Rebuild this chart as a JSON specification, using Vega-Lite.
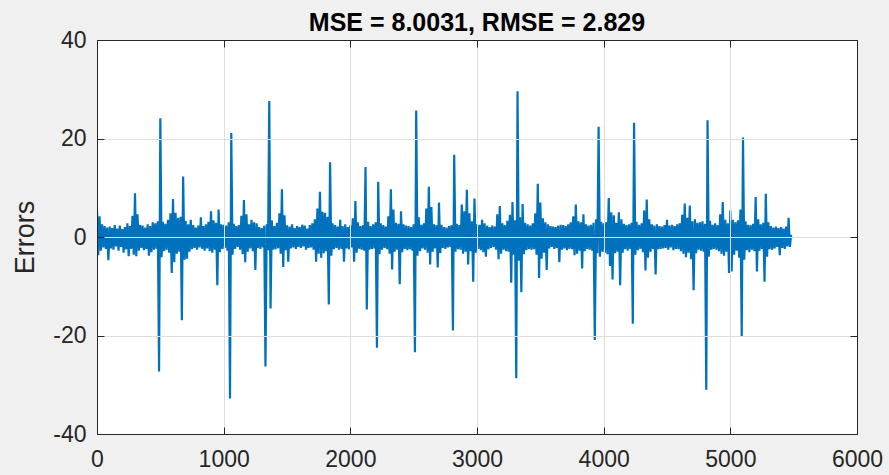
{
  "$schema": "https://vega.github.io/schema/vega-lite/v6.json",
  "autosize": {"type": "none"},
  "width": 760,
  "height": 394,
  "padding": {"left": 97, "top": 40, "right": 32, "bottom": 41},
  "background": "#f0f0f0",
  "config": {
    "view": {"fill": "white", "stroke": null},
    "font": "Liberation Sans"
  },
  "title": {
    "text": "MSE = 8.0031, RMSE = 2.829",
    "font": "Liberation Sans",
    "fontSize": 25,
    "fontWeight": "bold",
    "color": "#000000",
    "anchor": "middle",
    "frame": "group",
    "baseline": "bottom",
    "offset": 4,
    "dy": 36
  },
  "data": {
    "values": [
      {"t":0,"e":5.5},{"t":10,"e":-3.7},{"t":20,"e":4.2},{"t":30,"e":-2.8},{"t":40,"e":2.6},{"t":50,"e":-2.1},{"t":60,"e":2.2},{"t":70,"e":-2.4},{"t":80,"e":1.9},{"t":90,"e":-4.7},
      {"t":100,"e":2.1},{"t":110,"e":-2.3},{"t":120,"e":1.8},{"t":130,"e":-2.6},{"t":140,"e":2.4},{"t":150,"e":-1.9},{"t":160,"e":1.7},{"t":170,"e":-2.8},{"t":180,"e":2.3},{"t":190,"e":-2.0},
      {"t":200,"e":1.6},{"t":210,"e":-3.2},{"t":220,"e":2.0},{"t":230,"e":-2.5},{"t":240,"e":2.8},{"t":250,"e":-3.9},{"t":260,"e":2.2},{"t":270,"e":-2.4},{"t":280,"e":4.3},{"t":290,"e":-3.6},
      {"t":300,"e":8.9},{"t":310,"e":-3.9},{"t":320,"e":4.6},{"t":330,"e":-2.8},{"t":340,"e":2.5},{"t":350,"e":-2.2},{"t":360,"e":2.3},{"t":370,"e":-2.7},{"t":380,"e":1.9},{"t":390,"e":-2.4},
      {"t":400,"e":2.6},{"t":410,"e":-3.8},{"t":420,"e":2.2},{"t":430,"e":-3.1},{"t":440,"e":3.0},{"t":450,"e":-2.6},{"t":460,"e":2.8},{"t":470,"e":-2.4},{"t":480,"e":3.2},{"t":490,"e":-27.3},
      {"t":500,"e":24.1},{"t":510,"e":-4.1},{"t":520,"e":3.1},{"t":530,"e":-2.9},{"t":540,"e":2.7},{"t":550,"e":-2.6},{"t":560,"e":3.5},{"t":570,"e":-3.2},{"t":580,"e":4.8},{"t":590,"e":-7.3},
      {"t":600,"e":7.7},{"t":610,"e":-5.1},{"t":620,"e":4.9},{"t":630,"e":-3.4},{"t":640,"e":3.9},{"t":650,"e":-3.0},{"t":660,"e":4.1},{"t":670,"e":-16.9},{"t":680,"e":12.3},{"t":690,"e":-4.6},
      {"t":700,"e":3.3},{"t":710,"e":-4.4},{"t":720,"e":2.6},{"t":730,"e":-3.0},{"t":740,"e":3.5},{"t":750,"e":-2.5},{"t":760,"e":2.4},{"t":770,"e":-2.2},{"t":780,"e":1.9},{"t":790,"e":-2.6},
      {"t":800,"e":2.3},{"t":810,"e":-2.1},{"t":820,"e":4.0},{"t":830,"e":-2.4},{"t":840,"e":2.2},{"t":850,"e":-2.8},{"t":860,"e":2.6},{"t":870,"e":-2.3},{"t":880,"e":3.1},{"t":890,"e":-2.9},
      {"t":900,"e":5.2},{"t":910,"e":-3.2},{"t":920,"e":3.4},{"t":930,"e":-2.6},{"t":940,"e":2.9},{"t":950,"e":-9.8},{"t":960,"e":5.6},{"t":970,"e":-3.1},{"t":980,"e":2.6},{"t":990,"e":-2.4},
      {"t":1000,"e":2.5},{"t":1010,"e":-2.2},{"t":1020,"e":2.3},{"t":1030,"e":-2.8},{"t":1040,"e":3.0},{"t":1050,"e":-32.8},{"t":1060,"e":21.1},{"t":1070,"e":-3.6},{"t":1080,"e":2.7},{"t":1090,"e":-2.4},
      {"t":1100,"e":2.2},{"t":1110,"e":-2.0},{"t":1120,"e":2.4},{"t":1130,"e":-2.6},{"t":1140,"e":4.3},{"t":1150,"e":-3.5},{"t":1160,"e":7.5},{"t":1170,"e":-5.1},{"t":1180,"e":4.6},{"t":1190,"e":-3.0},
      {"t":1200,"e":2.6},{"t":1210,"e":-2.3},{"t":1220,"e":3.5},{"t":1230,"e":-2.9},{"t":1240,"e":3.0},{"t":1250,"e":-6.7},{"t":1260,"e":2.8},{"t":1270,"e":-2.2},{"t":1280,"e":2.0},{"t":1290,"e":-2.4},
      {"t":1300,"e":1.8},{"t":1310,"e":-2.1},{"t":1320,"e":2.3},{"t":1330,"e":-26.3},{"t":1340,"e":2.6},{"t":1350,"e":-2.7},{"t":1360,"e":27.6},{"t":1370,"e":-14.5},{"t":1380,"e":3.4},{"t":1390,"e":-2.6},
      {"t":1400,"e":2.2},{"t":1410,"e":-2.5},{"t":1420,"e":2.9},{"t":1430,"e":-2.3},{"t":1440,"e":4.8},{"t":1450,"e":-3.4},{"t":1460,"e":9.7},{"t":1470,"e":-6.1},{"t":1480,"e":4.4},{"t":1490,"e":-2.7},
      {"t":1500,"e":2.4},{"t":1510,"e":-5.0},{"t":1520,"e":2.1},{"t":1530,"e":-2.3},{"t":1540,"e":2.6},{"t":1550,"e":-2.1},{"t":1560,"e":1.8},{"t":1570,"e":-2.4},{"t":1580,"e":2.2},{"t":1590,"e":-2.0},
      {"t":1600,"e":2.0},{"t":1610,"e":-2.2},{"t":1620,"e":2.5},{"t":1630,"e":-1.9},{"t":1640,"e":2.3},{"t":1650,"e":-2.6},{"t":1660,"e":1.7},{"t":1670,"e":-2.2},{"t":1680,"e":2.4},{"t":1690,"e":-2.1},
      {"t":1700,"e":2.8},{"t":1710,"e":-2.6},{"t":1720,"e":3.6},{"t":1730,"e":-5.0},{"t":1740,"e":5.8},{"t":1750,"e":-3.4},{"t":1760,"e":9.2},{"t":1770,"e":-4.2},{"t":1780,"e":5.1},{"t":1790,"e":-3.3},
      {"t":1800,"e":4.9},{"t":1810,"e":-2.9},{"t":1820,"e":4.1},{"t":1830,"e":-13.7},{"t":1840,"e":15.2},{"t":1850,"e":-3.8},{"t":1860,"e":2.8},{"t":1870,"e":-2.5},{"t":1880,"e":2.4},{"t":1890,"e":-2.2},
      {"t":1900,"e":2.1},{"t":1910,"e":-2.6},{"t":1920,"e":3.5},{"t":1930,"e":-2.4},{"t":1940,"e":2.2},{"t":1950,"e":-5.0},{"t":1960,"e":2.6},{"t":1970,"e":-2.3},{"t":1980,"e":2.0},{"t":1990,"e":-2.5},
      {"t":2000,"e":2.3},{"t":2010,"e":-2.1},{"t":2020,"e":3.8},{"t":2030,"e":-5.0},{"t":2040,"e":7.3},{"t":2050,"e":-3.2},{"t":2060,"e":3.0},{"t":2070,"e":-2.4},{"t":2080,"e":2.2},{"t":2090,"e":-2.6},
      {"t":2100,"e":2.4},{"t":2110,"e":-2.8},{"t":2120,"e":14.2},{"t":2130,"e":-14.7},{"t":2140,"e":3.1},{"t":2150,"e":-2.6},{"t":2160,"e":2.2},{"t":2170,"e":-2.4},{"t":2180,"e":2.6},{"t":2190,"e":-2.3},
      {"t":2200,"e":3.0},{"t":2210,"e":-22.5},{"t":2220,"e":11.2},{"t":2230,"e":-3.5},{"t":2240,"e":2.8},{"t":2250,"e":-2.6},{"t":2260,"e":2.4},{"t":2270,"e":-2.2},{"t":2280,"e":2.1},{"t":2290,"e":-2.5},
      {"t":2300,"e":4.2},{"t":2310,"e":-3.4},{"t":2320,"e":9.7},{"t":2330,"e":-6.6},{"t":2340,"e":5.6},{"t":2350,"e":-3.0},{"t":2360,"e":2.9},{"t":2370,"e":-2.6},{"t":2380,"e":2.7},{"t":2390,"e":-9.6},
      {"t":2400,"e":5.2},{"t":2410,"e":-3.1},{"t":2420,"e":2.6},{"t":2430,"e":-2.4},{"t":2440,"e":2.3},{"t":2450,"e":-2.7},{"t":2460,"e":2.2},{"t":2470,"e":-2.5},{"t":2480,"e":2.0},{"t":2490,"e":-2.8},
      {"t":2500,"e":2.6},{"t":2510,"e":-23.4},{"t":2520,"e":25.7},{"t":2530,"e":-3.8},{"t":2540,"e":4.0},{"t":2550,"e":-2.9},{"t":2560,"e":2.5},{"t":2570,"e":-2.3},{"t":2580,"e":2.8},{"t":2590,"e":-2.6},
      {"t":2600,"e":5.8},{"t":2610,"e":-3.2},{"t":2620,"e":10.2},{"t":2630,"e":-5.6},{"t":2640,"e":6.1},{"t":2650,"e":-3.0},{"t":2660,"e":2.6},{"t":2670,"e":-2.3},{"t":2680,"e":2.4},{"t":2690,"e":-6.2},
      {"t":2700,"e":7.0},{"t":2710,"e":-3.3},{"t":2720,"e":2.5},{"t":2730,"e":-2.2},{"t":2740,"e":2.0},{"t":2750,"e":-2.4},{"t":2760,"e":1.9},{"t":2770,"e":-2.1},{"t":2780,"e":2.2},{"t":2790,"e":-2.0},
      {"t":2800,"e":2.4},{"t":2810,"e":-19.0},{"t":2820,"e":16.7},{"t":2830,"e":-3.0},{"t":2840,"e":2.7},{"t":2850,"e":-2.5},{"t":2860,"e":2.4},{"t":2870,"e":-2.6},{"t":2880,"e":6.6},{"t":2890,"e":-3.4},
      {"t":2900,"e":5.2},{"t":2910,"e":-3.0},{"t":2920,"e":9.6},{"t":2930,"e":-5.6},{"t":2940,"e":4.8},{"t":2950,"e":-2.9},{"t":2960,"e":3.2},{"t":2970,"e":-9.1},{"t":2980,"e":7.8},{"t":2990,"e":-3.2},
      {"t":3000,"e":2.6},{"t":3010,"e":-2.4},{"t":3020,"e":2.5},{"t":3030,"e":-2.7},{"t":3040,"e":3.5},{"t":3050,"e":-3.1},{"t":3060,"e":2.8},{"t":3070,"e":-4.0},{"t":3080,"e":2.3},{"t":3090,"e":-2.5},
      {"t":3100,"e":2.0},{"t":3110,"e":-2.2},{"t":3120,"e":2.3},{"t":3130,"e":-2.0},{"t":3140,"e":2.1},{"t":3150,"e":-2.6},{"t":3160,"e":4.6},{"t":3170,"e":-4.5},{"t":3180,"e":6.3},{"t":3190,"e":-3.4},
      {"t":3200,"e":2.8},{"t":3210,"e":-2.6},{"t":3220,"e":2.4},{"t":3230,"e":-2.9},{"t":3240,"e":3.3},{"t":3250,"e":-3.0},{"t":3260,"e":4.5},{"t":3270,"e":-9.3},{"t":3280,"e":7.1},{"t":3290,"e":-3.6},
      {"t":3300,"e":3.4},{"t":3310,"e":-28.7},{"t":3320,"e":29.6},{"t":3330,"e":-4.8},{"t":3340,"e":4.0},{"t":3350,"e":-11.2},{"t":3360,"e":6.7},{"t":3370,"e":-3.5},{"t":3380,"e":2.9},{"t":3390,"e":-2.7},
      {"t":3400,"e":2.6},{"t":3410,"e":-2.4},{"t":3420,"e":2.3},{"t":3430,"e":-2.6},{"t":3440,"e":2.8},{"t":3450,"e":-2.5},{"t":3460,"e":4.8},{"t":3470,"e":-3.6},{"t":3480,"e":10.8},{"t":3490,"e":-8.3},
      {"t":3500,"e":7.0},{"t":3510,"e":-4.4},{"t":3520,"e":3.8},{"t":3530,"e":-3.2},{"t":3540,"e":3.0},{"t":3550,"e":-6.7},{"t":3560,"e":2.6},{"t":3570,"e":-2.3},{"t":3580,"e":2.2},{"t":3590,"e":-2.0},
      {"t":3600,"e":2.1},{"t":3610,"e":-2.4},{"t":3620,"e":2.0},{"t":3630,"e":-2.2},{"t":3640,"e":2.3},{"t":3650,"e":-5.1},{"t":3660,"e":2.5},{"t":3670,"e":-2.6},{"t":3680,"e":2.4},{"t":3690,"e":-2.3},
      {"t":3700,"e":2.2},{"t":3710,"e":-2.7},{"t":3720,"e":2.6},{"t":3730,"e":-2.4},{"t":3740,"e":3.0},{"t":3750,"e":-2.5},{"t":3760,"e":4.2},{"t":3770,"e":-3.7},{"t":3780,"e":6.6},{"t":3790,"e":-3.4},
      {"t":3800,"e":3.2},{"t":3810,"e":-2.8},{"t":3820,"e":3.0},{"t":3830,"e":-6.4},{"t":3840,"e":4.6},{"t":3850,"e":-2.9},{"t":3860,"e":2.6},{"t":3870,"e":-2.4},{"t":3880,"e":2.3},{"t":3890,"e":-2.6},
      {"t":3900,"e":2.5},{"t":3910,"e":-2.8},{"t":3920,"e":2.9},{"t":3930,"e":-20.9},{"t":3940,"e":3.6},{"t":3950,"e":-3.3},{"t":3960,"e":22.4},{"t":3970,"e":-4.0},{"t":3980,"e":3.1},{"t":3990,"e":-3.0},
      {"t":4000,"e":2.8},{"t":4010,"e":-3.2},{"t":4020,"e":3.0},{"t":4030,"e":-3.5},{"t":4040,"e":7.9},{"t":4050,"e":-5.9},{"t":4060,"e":5.0},{"t":4070,"e":-8.6},{"t":4080,"e":4.4},{"t":4090,"e":-3.3},
      {"t":4100,"e":2.9},{"t":4110,"e":-3.0},{"t":4120,"e":5.0},{"t":4130,"e":-9.8},{"t":4140,"e":3.6},{"t":4150,"e":-3.2},{"t":4160,"e":2.7},{"t":4170,"e":-2.5},{"t":4180,"e":2.4},{"t":4190,"e":-2.8},
      {"t":4200,"e":2.6},{"t":4210,"e":-2.4},{"t":4220,"e":2.9},{"t":4230,"e":-17.6},{"t":4240,"e":23.2},{"t":4250,"e":-3.6},{"t":4260,"e":3.1},{"t":4270,"e":-2.7},{"t":4280,"e":2.5},{"t":4290,"e":-2.4},
      {"t":4300,"e":2.8},{"t":4310,"e":-3.1},{"t":4320,"e":5.4},{"t":4330,"e":-6.8},{"t":4340,"e":7.6},{"t":4350,"e":-4.2},{"t":4360,"e":3.6},{"t":4370,"e":-3.0},{"t":4380,"e":2.6},{"t":4390,"e":-2.4},
      {"t":4400,"e":2.3},{"t":4410,"e":-7.6},{"t":4420,"e":2.6},{"t":4430,"e":-2.5},{"t":4440,"e":2.2},{"t":4450,"e":-2.4},{"t":4460,"e":2.1},{"t":4470,"e":-2.3},{"t":4480,"e":2.4},{"t":4490,"e":-2.2},
      {"t":4500,"e":3.5},{"t":4510,"e":-2.6},{"t":4520,"e":2.3},{"t":4530,"e":-2.1},{"t":4540,"e":2.5},{"t":4550,"e":-2.7},{"t":4560,"e":2.2},{"t":4570,"e":-2.4},{"t":4580,"e":2.6},{"t":4590,"e":-2.5},
      {"t":4600,"e":2.8},{"t":4610,"e":-2.9},{"t":4620,"e":4.5},{"t":4630,"e":-3.4},{"t":4640,"e":6.8},{"t":4650,"e":-4.1},{"t":4660,"e":3.9},{"t":4670,"e":-3.2},{"t":4680,"e":6.4},{"t":4690,"e":-4.5},
      {"t":4700,"e":3.2},{"t":4710,"e":-10.8},{"t":4720,"e":3.6},{"t":4730,"e":-3.3},{"t":4740,"e":2.9},{"t":4750,"e":-2.6},{"t":4760,"e":3.0},{"t":4770,"e":-2.8},{"t":4780,"e":3.2},{"t":4790,"e":-3.0},
      {"t":4800,"e":2.7},{"t":4810,"e":-31.0},{"t":4820,"e":23.7},{"t":4830,"e":-4.0},{"t":4840,"e":3.3},{"t":4850,"e":-2.6},{"t":4860,"e":2.5},{"t":4870,"e":-2.4},{"t":4880,"e":2.8},{"t":4890,"e":-2.6},
      {"t":4900,"e":2.4},{"t":4910,"e":-2.9},{"t":4920,"e":4.6},{"t":4930,"e":-3.4},{"t":4940,"e":7.1},{"t":4950,"e":-3.8},{"t":4960,"e":3.5},{"t":4970,"e":-3.0},{"t":4980,"e":2.8},{"t":4990,"e":-7.3},
      {"t":5000,"e":5.4},{"t":5010,"e":-7.0},{"t":5020,"e":3.5},{"t":5030,"e":-3.6},{"t":5040,"e":3.0},{"t":5050,"e":-2.8},{"t":5060,"e":3.4},{"t":5070,"e":-4.2},{"t":5080,"e":5.6},{"t":5090,"e":-20.2},
      {"t":5100,"e":20.2},{"t":5110,"e":-4.6},{"t":5120,"e":3.2},{"t":5130,"e":-2.7},{"t":5140,"e":2.5},{"t":5150,"e":-3.1},{"t":5160,"e":2.4},{"t":5170,"e":-2.6},{"t":5180,"e":2.7},{"t":5190,"e":-2.9},
      {"t":5200,"e":8.1},{"t":5210,"e":-7.0},{"t":5220,"e":3.6},{"t":5230,"e":-2.8},{"t":5240,"e":2.6},{"t":5250,"e":-2.4},{"t":5260,"e":2.9},{"t":5270,"e":-9.1},{"t":5280,"e":8.8},{"t":5290,"e":-4.0},
      {"t":5300,"e":3.0},{"t":5310,"e":-2.5},{"t":5320,"e":2.2},{"t":5330,"e":-2.6},{"t":5340,"e":1.9},{"t":5350,"e":-2.3},{"t":5360,"e":2.1},{"t":5370,"e":-2.0},{"t":5380,"e":1.8},{"t":5390,"e":-3.7},
      {"t":5400,"e":2.0},{"t":5410,"e":-2.2},{"t":5420,"e":1.7},{"t":5430,"e":-2.4},{"t":5440,"e":2.1},{"t":5450,"e":-1.9},{"t":5460,"e":3.9},{"t":5470,"e":-2.0},{"t":5480,"e":0.5}
    ]
  },
  "layer": [
    {
      "mark": {"type": "line", "color": "#0072BD", "strokeWidth": 2.2, "strokeJoin": "miter", "clip": true},
      "encoding": {
        "x": {
          "field": "t", "type": "quantitative",
          "scale": {"domain": [0, 6000], "nice": false, "zero": false},
          "axis": {
            "values": [0, 1000, 2000, 3000, 4000, 5000, 6000],
            "labelExpr": "'' + datum.value",
            "title": null, "grid": true, "gridColor": "#dedede", "gridWidth": 1,
            "domain": true, "domainColor": "#262626", "domainWidth": 1,
            "ticks": true, "tickSize": -7, "tickColor": "#262626", "tickWidth": 1,
            "labelFont": "Liberation Sans", "labelFontSize": 23, "labelColor": "#262626",
            "labelPadding": 21, "labelFlush": false, "labelOverlap": false, "zindex": 1
          }
        },
        "y": {
          "field": "e", "type": "quantitative",
          "scale": {"domain": [-40, 40], "nice": false},
          "axis": {
            "values": [-40, -20, 0, 20, 40],
            "labelExpr": "'' + datum.value",
            "title": "Errors", "titleFont": "Liberation Sans", "titleFontSize": 27, "titleFontWeight": "normal",
            "titleColor": "#262626", "titleX": -72, "titleY": 197, "titleAngle": -90, "titleAlign": "center", "titleBaseline": "middle",
            "grid": true, "gridColor": "#dedede", "gridWidth": 1,
            "domain": true, "domainColor": "#262626", "domainWidth": 1,
            "ticks": true, "tickSize": -7, "tickColor": "#262626", "tickWidth": 1,
            "labelFont": "Liberation Sans", "labelFontSize": 23, "labelColor": "#262626",
            "labelPadding": 18, "labelFlush": false, "labelOverlap": false, "zindex": 1
          }
        }
      }
    },
    {
      "mark": {"type": "point", "opacity": 0},
      "encoding": {
        "x": {
          "field": "t", "type": "quantitative",
          "axis": {
            "orient": "top", "values": [0, 1000, 2000, 3000, 4000, 5000, 6000],
            "title": null, "labels": false, "grid": false,
            "domain": true, "domainColor": "#262626", "domainWidth": 1,
            "ticks": true, "tickSize": -7, "tickColor": "#262626", "tickWidth": 1, "zindex": 1
          }
        },
        "y": {
          "field": "e", "type": "quantitative",
          "axis": {
            "orient": "right", "values": [-40, -20, 0, 20, 40],
            "title": null, "labels": false, "grid": false,
            "domain": true, "domainColor": "#262626", "domainWidth": 1,
            "ticks": true, "tickSize": -7, "tickColor": "#262626", "tickWidth": 1, "zindex": 1
          }
        }
      }
    }
  ],
  "resolve": {"axis": {"x": "independent", "y": "independent"}}
}
